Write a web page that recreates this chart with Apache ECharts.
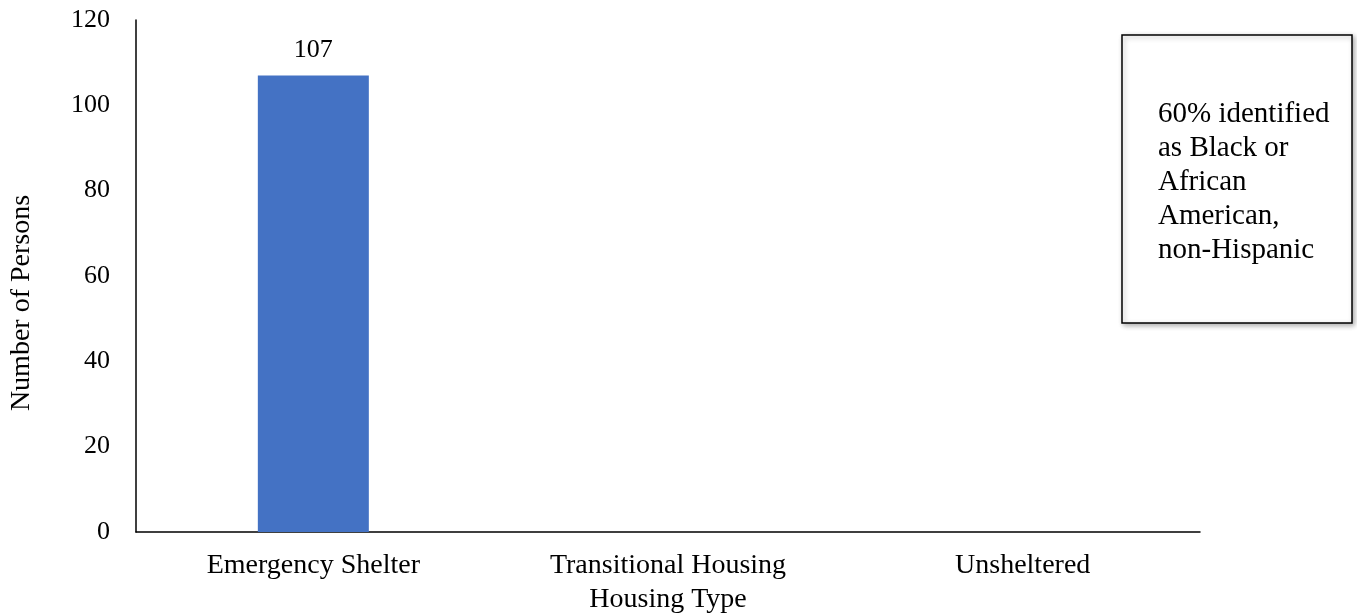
<!DOCTYPE html>
<html>
<head>
<meta charset="utf-8">
<script src="https://cdn.jsdelivr.net/npm/echarts@6/dist/echarts.min.js"></script>
<style>
html,body{margin:0;padding:0;background:#fff;}
#chart{width:1357px;height:615px;}
</style>
</head>
<body>
<div id="chart"></div>
<script>
var categories = ['Emergency Shelter', 'Transitional Housing', 'Unsheltered'];
var persons = [107, 0, 0];
var yTicks = [0, 20, 40, 60, 80, 100, 120];
var noteLines = ['60% identified', 'as Black or', 'African', 'American,', 'non-Hispanic'];
var xTitle = 'Housing Type';
var yTitle = 'Number of Persons';

var FONT = '"Liberation Serif", "Times New Roman", serif';
var chart = echarts.init(document.getElementById('chart'), null, {renderer: 'canvas'});
chart.setOption({
  animation: false,
  backgroundColor: '#fff',
  grid: {left: 136, right: 157, top: 20, bottom: 83, containLabel: false, outerBoundsMode: 'none'},
  xAxis: {
    type: 'category',
    data: categories,
    name: xTitle,
    nameLocation: 'middle',
    nameGap: 54,
    nameTextStyle: {fontFamily: FONT, fontSize: 28, color: '#000'},
    axisLine: {lineStyle: {color: '#000', width: 1.5}},
    axisTick: {show: false},
    axisLabel: {fontFamily: FONT, fontSize: 28, color: '#000', margin: 20, interval: 0}
  },
  yAxis: {
    type: 'value',
    min: yTicks[0],
    max: yTicks[yTicks.length - 1],
    interval: 20,
    axisLine: {show: true, lineStyle: {color: '#000', width: 1.5}},
    axisTick: {show: false},
    splitLine: {show: false},
    axisLabel: {fontFamily: FONT, fontSize: 26, color: '#000', margin: 26}
  },
  series: [{
    type: 'bar',
    data: persons,
    barWidth: 111,
    itemStyle: {color: '#4472C4'},
    label: {
      show: true,
      position: 'top',
      distance: 12,
      fontFamily: FONT,
      fontSize: 26,
      color: '#000',
      formatter: function (p) { return p.value ? String(p.value) : ''; }
    }
  }],
  graphic: [
    {
      type: 'text',
      rotation: Math.PI / 2,
      x: 22,
      y: 303,
      style: {
        text: yTitle,
        font: '28px ' + FONT,
        fill: '#000',
        align: 'center',
        verticalAlign: 'middle'
      }
    },
    {
      type: 'rect',
      shape: {x: 1122, y: 35, width: 230, height: 288},
      style: {
        fill: '#fff',
        stroke: '#000',
        lineWidth: 1.5,
        shadowBlur: 5,
        shadowOffsetX: 2,
        shadowOffsetY: 2,
        shadowColor: 'rgba(0,0,0,0.3)'
      }
    },
    {
      type: 'text',
      x: 1158,
      y: 97,
      style: {
        text: noteLines.join('\n'),
        font: '29px ' + FONT,
        lineHeight: 34,
        fill: '#000',
        align: 'left',
        verticalAlign: 'top'
      }
    }
  ]
});
</script>
</body>
</html>
